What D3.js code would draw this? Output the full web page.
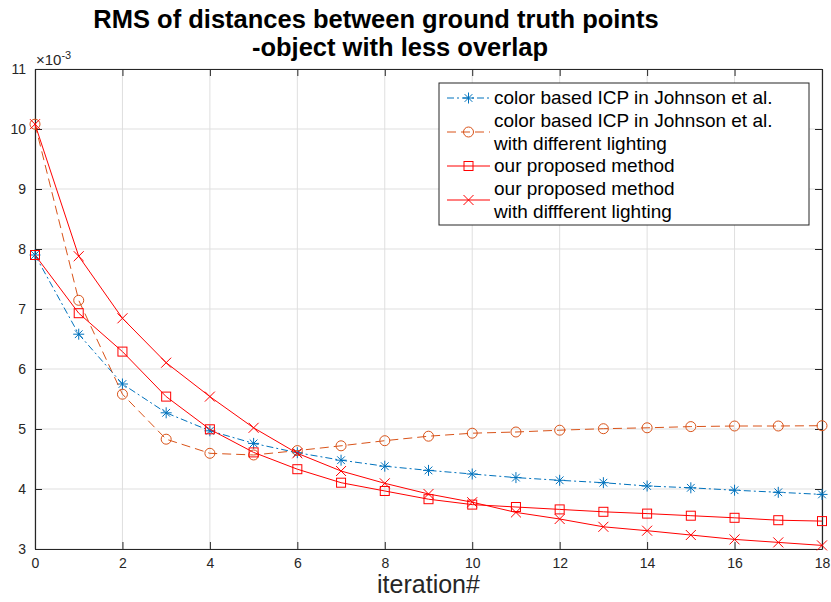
<!DOCTYPE html>
<html>
<head>
<meta charset="utf-8">
<script src="https://cdn.jsdelivr.net/npm/d3@7"></script>
<style>
  body { margin: 0; background: #fff; }
  svg { font-family: "Liberation Sans", Arial, Helvetica, sans-serif; }
</style>
</head>
<body>
<div id="chart"></div>
<script>
// chart size
const width = 831;
const height = 602;
const margin = { top: 69, right: 9, bottom: 53, left: 35 };

// data (values in units of 1e-3)
const iterations = d3.range(0, 19);
const colorICP = [7.9, 6.58, 5.75, 5.27, 4.97, 4.76, 4.605, 4.48, 4.38, 4.31, 4.25, 4.19, 4.145, 4.105, 4.05, 4.02, 3.98, 3.945, 3.91];
const colorICPLighting = [10.08, 7.145, 5.58, 4.83, 4.595, 4.567, 4.64, 4.72, 4.805, 4.88, 4.93, 4.95, 4.98, 5.005, 5.02, 5.04, 5.05, 5.05, 5.055];
const proposed = [7.9, 6.93, 6.29, 5.54, 4.995, 4.61, 4.33, 4.105, 3.967, 3.83, 3.74, 3.70, 3.66, 3.62, 3.59, 3.555, 3.52, 3.48, 3.465];
const proposedLighting = [10.08, 7.88, 6.845, 6.105, 5.54, 5.02, 4.595, 4.30, 4.095, 3.917, 3.78, 3.61, 3.5, 3.37, 3.305, 3.233, 3.16, 3.11, 3.06];

const xTicks = [0, 2, 4, 6, 8, 10, 12, 14, 16, 18];
const yTicks = [3, 4, 5, 6, 7, 8, 9, 10, 11];

const series = [
  { name: ["color based ICP in Johnson et al."], values: colorICP, color: "#0072BD", dash: "7,3,2,3", marker: "star" },
  { name: ["color based ICP in Johnson et al.", "with different lighting"], values: colorICPLighting, color: "#D95319", dash: "9,5", marker: "circle" },
  { name: ["our proposed method"], values: proposed, color: "#FF0000", dash: null, marker: "square" },
  { name: ["our proposed method", "with diffferent lighting"], values: proposedLighting, color: "#FF0000", dash: null, marker: "cross" }
];

const axisColor = "#262626";

const svg = d3.select("#chart")
    .append("svg")
    .attr("width", width)
    .attr("height", height);

const x = d3.scaleLinear().domain([0, 18]).range([margin.left, width - margin.right]);
const y = d3.scaleLinear().domain([3, 11]).range([height - margin.bottom, margin.top]);

const x0 = x(0), x1 = x(18), y0 = y(3), y1 = y(11);

// grid
svg.append("g").selectAll("line")
    .data(xTicks)
    .enter().append("line")
    .attr("x1", d => x(d)).attr("x2", d => x(d))
    .attr("y1", y0).attr("y2", y1)
    .attr("stroke", "#dfdfdf").attr("stroke-width", 1);
svg.append("g").selectAll("line")
    .data(yTicks)
    .enter().append("line")
    .attr("x1", x0).attr("x2", x1)
    .attr("y1", d => y(d)).attr("y2", d => y(d))
    .attr("stroke", "#dfdfdf").attr("stroke-width", 1);

// axes (ticks inward, box)
const xAxis = svg.append("g")
    .attr("transform", `translate(0,${y0})`)
    .call(d3.axisBottom(x).tickValues(xTicks).tickSize(-7).tickPadding(9).tickSizeOuter(0));
const yAxis = svg.append("g")
    .attr("transform", `translate(${x0},0)`)
    .call(d3.axisLeft(y).tickValues(yTicks).tickSize(-7).tickPadding(9).tickSizeOuter(0));
const xTop = svg.append("g")
    .attr("transform", `translate(0,${y1})`)
    .call(d3.axisTop(x).tickValues(xTicks).tickSize(-7).tickFormat("").tickSizeOuter(0));
const yRight = svg.append("g")
    .attr("transform", `translate(${x1},0)`)
    .call(d3.axisRight(y).tickValues(yTicks).tickSize(-7).tickFormat("").tickSizeOuter(0));

[xAxis, yAxis, xTop, yRight].forEach(g => {
  g.select(".domain").attr("stroke", axisColor).attr("stroke-width", 1.2);
  g.selectAll(".tick line").attr("stroke", axisColor);
  g.selectAll("text").attr("fill", axisColor).style("font-size", "14px");
});

// exponent label
const expo = svg.append("text")
    .attr("x", x0 + 1)
    .attr("y", y1 - 4)
    .attr("fill", axisColor)
    .style("font-size", "15px");
expo.append("tspan").text("\u00d710");
expo.append("tspan").attr("dy", -6).style("font-size", "11px").text("-3");

// x label
svg.append("text")
    .attr("x", (x0 + x1) / 2)
    .attr("y", 593)
    .attr("text-anchor", "middle")
    .attr("fill", axisColor)
    .style("font-size", "25px")
    .text("iteration#");

// title
svg.append("text")
    .attr("x", 376)
    .attr("y", 28)
    .attr("text-anchor", "middle")
    .style("font-size", "25.5px")
    .style("font-weight", "bold")
    .text("RMS of distances between ground truth points");
svg.append("text")
    .attr("x", 400)
    .attr("y", 56)
    .attr("text-anchor", "middle")
    .style("font-size", "25.5px")
    .style("font-weight", "bold")
    .text("-object with less overlap");

// marker drawing
function drawMarker(g, type, cx, cy, color) {
  if (type === "star") {
    const r = 5.5;
    const p = [[-r, 0, r, 0], [0, -r, 0, r], [-r * 0.7, -r * 0.7, r * 0.7, r * 0.7], [-r * 0.7, r * 0.7, r * 0.7, -r * 0.7]];
    p.forEach(s => g.append("line")
      .attr("x1", cx + s[0]).attr("y1", cy + s[1]).attr("x2", cx + s[2]).attr("y2", cy + s[3])
      .attr("stroke", color).attr("stroke-width", 1));
  } else if (type === "circle") {
    g.append("circle").attr("cx", cx).attr("cy", cy).attr("r", 5)
      .attr("fill", "none").attr("stroke", color).attr("stroke-width", 1);
  } else if (type === "square") {
    g.append("rect").attr("x", cx - 4.5).attr("y", cy - 4.5).attr("width", 9).attr("height", 9)
      .attr("fill", "none").attr("stroke", color).attr("stroke-width", 1);
  } else if (type === "cross") {
    const r = 5;
    g.append("line").attr("x1", cx - r).attr("y1", cy - r).attr("x2", cx + r).attr("y2", cy + r)
      .attr("stroke", color).attr("stroke-width", 1);
    g.append("line").attr("x1", cx - r).attr("y1", cy + r).attr("x2", cx + r).attr("y2", cy - r)
      .attr("stroke", color).attr("stroke-width", 1);
  }
}

const line = d3.line()
    .x((d, i) => x(iterations[i]))
    .y(d => y(d));

series.forEach(s => {
  const g = svg.append("g");
  g.append("path")
    .datum(s.values)
    .attr("d", line)
    .attr("fill", "none")
    .attr("stroke", s.color)
    .attr("stroke-width", 1)
    .attr("stroke-dasharray", s.dash);
  s.values.forEach((v, i) => drawMarker(g, s.marker, x(iterations[i]), y(v), s.color));
});

// legend
const legend = svg.append("g");
legend.append("rect")
    .attr("x", 439).attr("y", 83)
    .attr("width", 370).attr("height", 142)
    .attr("fill", "#fff")
    .attr("stroke", axisColor)
    .attr("stroke-width", 1);

const rowY = [98, 132, 166, 200];
series.forEach((s, i) => {
  const cy = rowY[i];
  legend.append("line")
    .attr("x1", 447).attr("x2", 490)
    .attr("y1", cy).attr("y2", cy)
    .attr("stroke", s.color)
    .attr("stroke-width", 1)
    .attr("stroke-dasharray", s.dash);
  drawMarker(legend, s.marker, 468.5, cy, s.color);
  const t = legend.append("text")
    .attr("x", 494)
    .attr("fill", "#000")
    .style("font-size", "19px");
  if (s.name.length === 1) {
    t.attr("y", cy + 6).text(s.name[0]);
  } else {
    t.append("tspan").attr("x", 494).attr("y", cy - 5).text(s.name[0]);
    t.append("tspan").attr("x", 494).attr("y", cy + 18).text(s.name[1]);
  }
});
</script>
</body>
</html>
